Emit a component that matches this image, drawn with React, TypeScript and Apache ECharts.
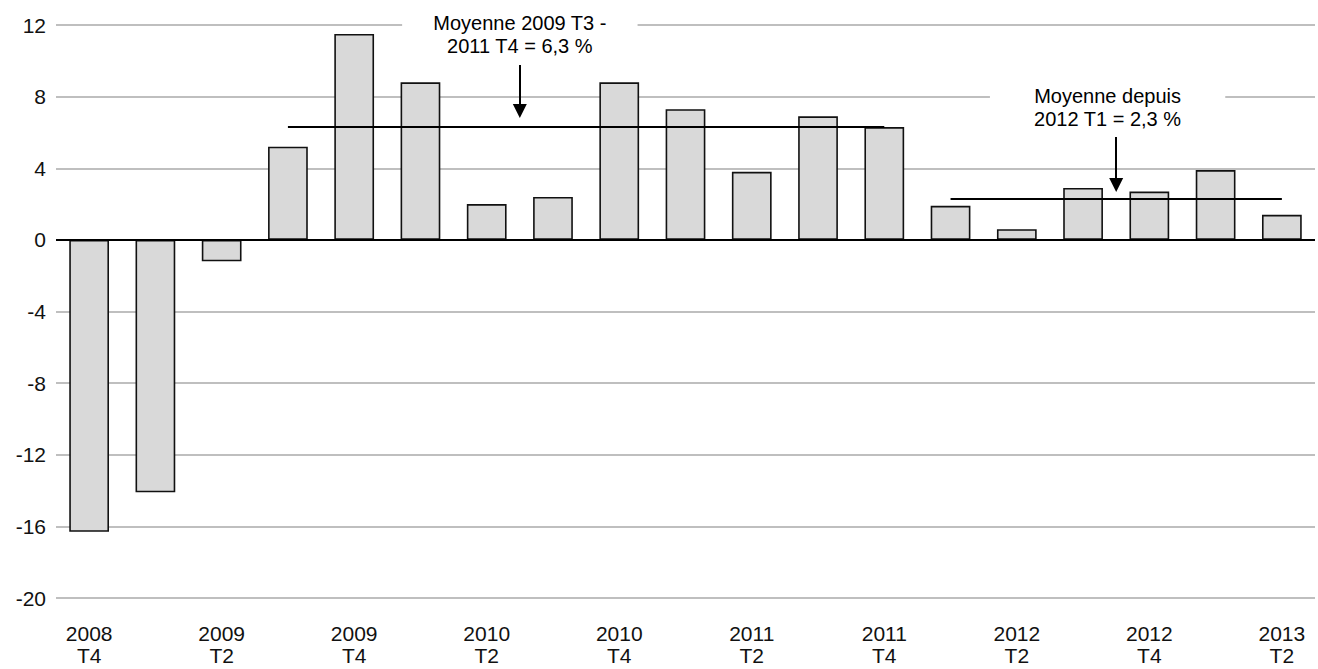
import React, { useEffect, useRef } from 'react';
import * as echarts from 'echarts';

const categories = [
  '2008 T4', '2009 T1', '2009 T2', '2009 T3', '2009 T4',
  '2010 T1', '2010 T2', '2010 T3', '2010 T4',
  '2011 T1', '2011 T2', '2011 T3', '2011 T4',
  '2012 T1', '2012 T2', '2012 T3', '2012 T4',
  '2013 T1', '2013 T2',
];
const values = [
  -16.3, -14.1, -1.2, 5.2, 11.5,
  8.8, 2.0, 2.4, 8.8,
  7.3, 3.8, 6.9, 6.3,
  1.9, 0.6, 2.9, 2.7,
  3.9, 1.4,
];
const yMin = -20;
const yMax = 12;
const yInterval = 4;

const avgFrom = ['2009 T3', '2012 T1'];
const avgTo = ['2011 T4', '2013 T2'];
const avgValues = [6.3, 2.3];
const avgLabels = ['Moyenne 2009 T3 -\n2011 T4 = 6,3 %', 'Moyenne depuis\n2012 T1 = 2,3 %'];

// annotation layout (in axis units of a hidden linear x axis aligned with the categories)
const annotLayout = [
  { textX: 6.5, textY: 11.46, padX: 31, arrowX: 6.5, arrowFrom: 9.77, arrowTo: 7.2 },
  { textX: 15.37, textY: 7.4, padX: 44, arrowX: 15.5, arrowFrom: 5.75, arrowTo: 3.07 },
];

const FONT = '"Liberation Sans", Arial, Helvetica, sans-serif';
const TEXT = '#111';

export default function App() {
  const ref = useRef<HTMLDivElement>(null);
  useEffect(() => {
    if (!ref.current) return;
    const chart = echarts.init(ref.current, null, { renderer: 'svg' });
    const option: any = {
      animation: false,
      backgroundColor: '#fff',
      textStyle: { fontFamily: FONT },
      grid: { left: 56, right: 3, top: 25, bottom: 71, containLabel: false },
      xAxis: [
        {
          type: 'category',
          data: categories,
          axisLine: { show: false },
          axisTick: { show: false },
          axisLabel: {
            interval: 1,
            color: TEXT,
            fontSize: 21,
            lineHeight: 22,
            margin: 24,
            fontFamily: FONT,
            formatter: (v: string) => v.replace(' ', '\n'),
          },
        },
        { type: 'value', min: -0.5, max: categories.length - 0.5, show: false },
      ],
      yAxis: {
        type: 'value',
        min: yMin,
        max: yMax,
        interval: yInterval,
        axisLine: { show: false },
        axisTick: { show: false },
        axisLabel: { color: TEXT, fontSize: 21, margin: 10, fontFamily: FONT },
        splitLine: { lineStyle: { color: '#aaa', width: 1.5 } },
      },
      series: [
        {
          type: 'bar',
          data: values,
          barWidth: '60%',
          itemStyle: { color: '#d9d9d9', borderColor: '#111', borderWidth: 1.6 },
          markLine: {
            silent: true,
            symbol: 'none',
            label: { show: false },
            data: [
              { yAxis: 0, lineStyle: { color: '#000', width: 2.2, type: 'solid' } },
              ...avgValues.map((v, i) => [
                { coord: [avgFrom[i], v], lineStyle: { color: '#000', width: 2, type: 'solid' } },
                { coord: [avgTo[i], v] },
              ]),
            ],
          },
        },
        {
          type: 'scatter',
          xAxisIndex: 1,
          symbolSize: 1,
          itemStyle: { color: '#fff', opacity: 1 },
          silent: true,
          z: 5,
          data: annotLayout.map((a, i) => ({
            value: [a.textX, a.textY],
            label: {
              show: true,
              position: 'inside',
              formatter: avgLabels[i],
              color: '#000',
              textBorderWidth: 0,
              opacity: 1,
              fontSize: 20,
              lineHeight: 23,
              fontFamily: FONT,
              align: 'center',
              verticalAlign: 'middle',
              backgroundColor: '#fff',
              padding: [4, a.padX],
            },
          })),
          markLine: {
            silent: true,
            symbol: ['none', 'triangle'],
            symbolSize: 14,
            label: { show: false },
            lineStyle: { color: '#000', width: 2, type: 'solid' },
            itemStyle: { color: '#000' },
            data: annotLayout.map((a) => [
              { coord: [a.arrowX, a.arrowFrom] },
              { coord: [a.arrowX, a.arrowTo] },
            ]),
          },
        },
      ],
    };
    chart.setOption(option);
    return () => chart.dispose();
  }, []);
  return (
    <div
      ref={ref}
      style={{ position: 'fixed', left: 0, top: 0, width: 1318, height: 669, background: '#fff' }}
    />
  );
}
